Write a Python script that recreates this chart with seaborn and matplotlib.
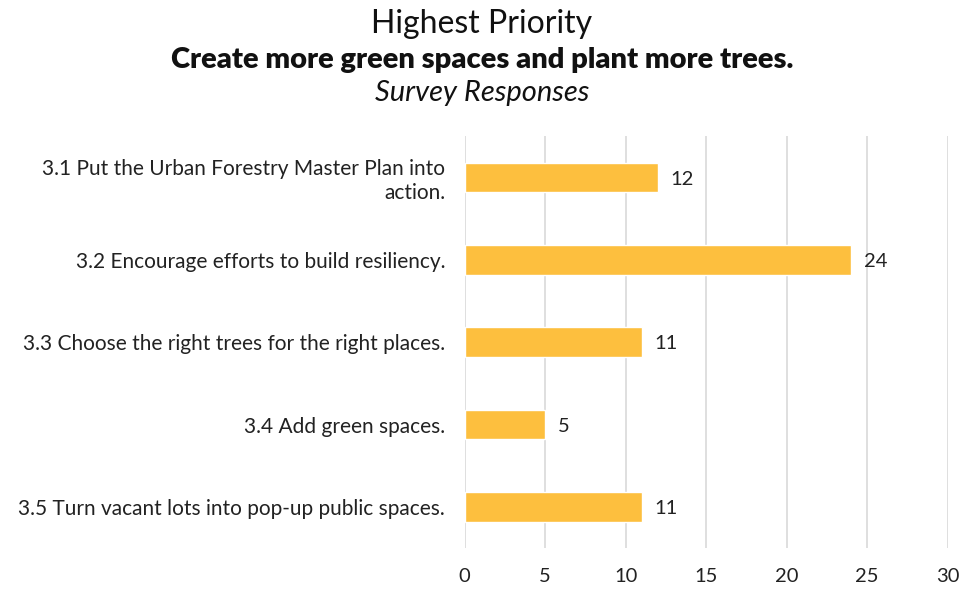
import pandas as pd
import matplotlib.pyplot as plt
import seaborn as sns

# ── Data ──────────────────────────────────────────────────
categories = [
    '3.1 Put the Urban Forestry Master Plan into\naction.',
    '3.2 Encourage efforts to build resiliency.',
    '3.3 Choose the right trees for the right places.',
    '3.4 Add green spaces.',
    '3.5 Turn vacant lots into pop-up public spaces.',
]
responses = [12, 24, 11, 5, 11]
x_ticks = [0, 5, 10, 15, 20, 25, 30]

df = pd.DataFrame({'Item': categories, 'Responses': responses})

# ── Style ─────────────────────────────────────────────────
sns.set_theme(style='white')
plt.rcParams['font.family'] = ['Lato', 'DejaVu Sans']

fig = plt.figure(figsize=(9.64, 5.9), dpi=100)
ax = fig.add_axes([0.482, 0.071, 0.501, 0.698])

sns.barplot(data=df, y='Item', x='Responses', orient='h',
            color='#FDBF3E', saturation=1, width=0.36, ax=ax)

for bar, val in zip(ax.patches, responses):
    ax.text(bar.get_width() + 0.8, bar.get_y() + bar.get_height() / 2 + 0.02,
            f'{val}', va='center', ha='left', fontsize=14.5, color='#222222')

ax.set_xlim(0, 30)
ax.set_xticks(x_ticks)
ax.set_xticklabels([str(t) for t in x_ticks], fontsize=14.5, color='#222222')
ax.tick_params(axis='y', labelsize=15, labelcolor='#222222', length=0, pad=14)
ax.tick_params(axis='x', length=0, pad=14)
for lbl in ax.get_yticklabels():
    lbl.set_horizontalalignment('right')
    lbl.set_multialignment('right')
ax.set_xlabel('')
ax.set_ylabel('')
ax.xaxis.grid(True, color='#d9d9d9', linewidth=1.2)
ax.set_axisbelow(True)
sns.despine(ax=ax, left=True, bottom=True)

# ── Titles ────────────────────────────────────────────────
fig.text(0.5, 0.960, 'Highest Priority', ha='center', va='center',
         fontsize=23, color='#111111')
fig.text(0.5, 0.898, 'Create more green spaces and plant more trees.',
         ha='center', va='center', fontsize=21, fontweight='heavy',
         color='#111111')
fig.text(0.5, 0.843, 'Survey Responses', ha='center', va='center',
         fontsize=21, style='italic', color='#111111')

plt.savefig('out.png', dpi=100)
plt.close()
